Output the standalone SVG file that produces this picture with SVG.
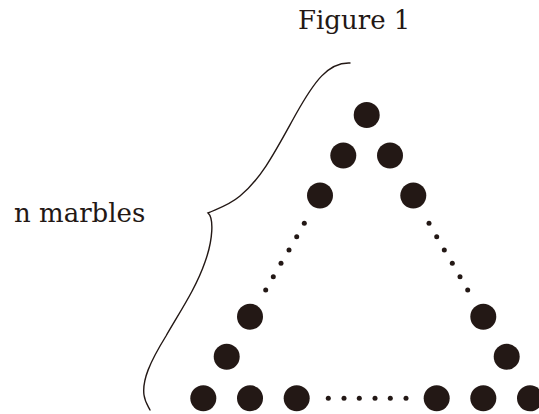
<svg xmlns="http://www.w3.org/2000/svg" width="539" height="414" viewBox="0 0 539 414">
<style>
.t{font-family:"DejaVu Serif","Liberation Serif",serif;font-size:26px;fill:#231815}
.m{fill:#231815}
.d{fill:#231815}
.br{fill:none;stroke:#231815;stroke-width:1.4;stroke-linecap:round;stroke-linejoin:miter}
</style>
<rect width="539" height="414" fill="#fff"/>
<text class="t" x="298" y="28.5">Figure 1</text>
<text class="t" x="14" y="221.5">n marbles</text>
<g id="brace">
<path class="br" d="M350,63 C328,62 314,82 296,114 C276,150 262,178 240,196 C228,206 216,209 208,213 C214,218 213,240 205,262 C196,288 181,310 166,336 C150,362 142,380 144,395 C145,402 148,406 150,410"/>
</g>
<g id="marbles">
<circle class="m" cx="366.7" cy="115" r="13"/>
<circle class="m" cx="343.3" cy="155.5" r="13"/>
<circle class="m" cx="390" cy="155.5" r="13"/>
<circle class="m" cx="320" cy="195.5" r="13"/>
<circle class="m" cx="413.3" cy="195.5" r="13"/>
<circle class="m" cx="250" cy="316.7" r="13"/>
<circle class="m" cx="483.3" cy="316.7" r="13"/>
<circle class="m" cx="226.7" cy="356.7" r="13"/>
<circle class="m" cx="506.7" cy="356.7" r="13"/>
<circle class="m" cx="203.3" cy="398.3" r="13"/>
<circle class="m" cx="250" cy="398.3" r="13"/>
<circle class="m" cx="296.7" cy="398.3" r="13"/>
<circle class="m" cx="436.7" cy="398.3" r="13"/>
<circle class="m" cx="483.3" cy="398.3" r="13"/>
<circle class="m" cx="530" cy="398.3" r="13"/>
</g>
<g id="dots">
<circle class="d" cx="304.3" cy="223.3" r="2.5"/>
<circle class="d" cx="296.7" cy="236.7" r="2.5"/>
<circle class="d" cx="289" cy="250" r="2.5"/>
<circle class="d" cx="281" cy="263.3" r="2.5"/>
<circle class="d" cx="273.3" cy="276.7" r="2.5"/>
<circle class="d" cx="265.7" cy="290" r="2.5"/>
<circle class="d" cx="429" cy="223.3" r="2.5"/>
<circle class="d" cx="436.7" cy="236.7" r="2.5"/>
<circle class="d" cx="444.3" cy="250" r="2.5"/>
<circle class="d" cx="452.3" cy="263.3" r="2.5"/>
<circle class="d" cx="460" cy="276.7" r="2.5"/>
<circle class="d" cx="467.7" cy="290" r="2.5"/>
<circle class="d" cx="328.3" cy="398.3" r="2.5"/>
<circle class="d" cx="344" cy="398.3" r="2.5"/>
<circle class="d" cx="359.3" cy="398.3" r="2.5"/>
<circle class="d" cx="375" cy="398.3" r="2.5"/>
<circle class="d" cx="390.3" cy="398.3" r="2.5"/>
<circle class="d" cx="406" cy="398.3" r="2.5"/>
</g>
</svg>
